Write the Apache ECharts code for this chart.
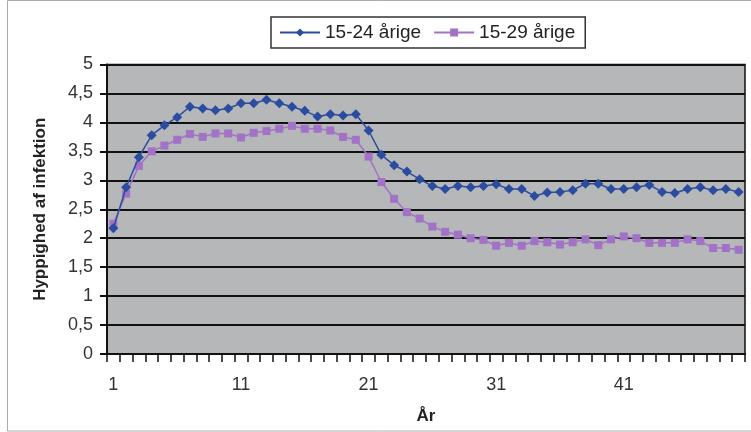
<!DOCTYPE html>
<html>
<head>
<meta charset="utf-8">
<script src="https://cdn.jsdelivr.net/npm/echarts@6/dist/echarts.min.js"></script>
<style>
  html, body { margin: 0; padding: 0; background: #fff; }
  #chart { width: 751px; height: 432px; }
</style>
</head>
<body>
<div id="chart"></div>
<script>
// Years 1..50
const years = Array.from({ length: 50 }, (_, i) => String(i + 1));

// Frequency of infection, ages 15-24
const age15to24 = [
  2.17, 2.88, 3.40, 3.78, 3.95, 4.09, 4.27, 4.24, 4.21, 4.24,
  4.33, 4.33, 4.39, 4.33, 4.27, 4.20, 4.10, 4.14, 4.12, 4.14,
  3.86, 3.44, 3.26, 3.15, 3.02, 2.90, 2.85, 2.90, 2.88, 2.90,
  2.93, 2.85, 2.85, 2.73, 2.79, 2.80, 2.83, 2.94, 2.94, 2.85,
  2.85, 2.88, 2.92, 2.80, 2.78, 2.85, 2.88, 2.83, 2.85, 2.80
];

// Frequency of infection, ages 15-29
const age15to29 = [
  2.25, 2.77, 3.25, 3.50, 3.60, 3.70, 3.80, 3.75, 3.81, 3.81,
  3.74, 3.82, 3.85, 3.89, 3.94, 3.89, 3.89, 3.86, 3.75, 3.70,
  3.41, 2.97, 2.68, 2.45, 2.34, 2.20, 2.11, 2.06, 2.00, 1.97,
  1.87, 1.92, 1.87, 1.95, 1.93, 1.89, 1.93, 1.98, 1.88, 1.98,
  2.03, 2.00, 1.92, 1.92, 1.92, 1.98, 1.95, 1.83, 1.83, 1.80
];

const seriesNames = ['15-24 årige', '15-29 årige'];
const FONT = '"Liberation Sans", Arial, sans-serif';

const chart = echarts.init(document.getElementById('chart'), null, { renderer: 'canvas' });

chart.setOption({
  backgroundColor: '#fff',
  animation: false,
  textStyle: { fontFamily: FONT },
  graphic: [{
    type: 'rect',
    shape: { x: 7.5, y: 0.5, width: 760, height: 430.5 },
    style: { fill: 'none', stroke: '#aaa', lineWidth: 1 },
    silent: true
  }],
  legend: {
    left: 271,
    top: 17,
    padding: [6, 10, 6, 8],
    itemGap: 12,
    itemWidth: 40,
    itemHeight: 10,
    borderColor: '#333',
    borderWidth: 1.5,
    backgroundColor: '#fff',
    textStyle: { fontSize: 19, color: '#222', fontFamily: FONT },
    data: seriesNames
  },
  grid: {
    left: 107,
    right: 6,
    top: 64.5,
    bottom: 78,
    show: true,
    backgroundColor: '#b5b7b9',
    borderColor: '#111',
    borderWidth: 1.5
  },
  xAxis: {
    type: 'category',
    data: years,
    boundaryGap: true,
    name: 'År',
    nameLocation: 'middle',
    nameGap: 54,
    nameTextStyle: { fontSize: 17, fontWeight: 'bold', color: '#222', fontFamily: FONT },
    axisLine: { lineStyle: { color: '#111', width: 2 } },
    axisTick: { show: true, interval: 0, length: 8, lineStyle: { color: '#111', width: 1.5 } },
    axisLabel: { interval: 9, margin: 22, fontSize: 18, color: '#333', fontFamily: FONT },
    splitLine: { show: false }
  },
  yAxis: {
    type: 'value',
    min: 0,
    max: 5,
    interval: 0.5,
    name: 'Hyppighed af infektion',
    nameLocation: 'middle',
    nameGap: 58,
    nameTextStyle: { fontSize: 17, fontWeight: 'bold', color: '#222', fontFamily: FONT },
    axisLine: { show: true, lineStyle: { color: '#111', width: 2 } },
    axisTick: { show: true, length: 7, lineStyle: { color: '#111', width: 2 } },
    axisLabel: {
      margin: 14,
      fontSize: 18,
      color: '#333',
      fontFamily: FONT,
      formatter: v => String(v).replace('.', ',')
    },
    splitLine: { show: true, lineStyle: { color: '#111', width: 2 } }
  },
  series: [
    {
      name: seriesNames[0],
      type: 'line',
      data: age15to24,
      symbol: 'diamond',
      symbolSize: 10,
      showAllSymbol: true,
      z: 3,
      itemStyle: { color: '#2b4c9f' },
      lineStyle: { color: '#2b4c9f', width: 1.5 }
    },
    {
      name: seriesNames[1],
      type: 'line',
      data: age15to29,
      symbol: 'rect',
      symbolSize: 8,
      showAllSymbol: true,
      z: 2,
      itemStyle: { color: '#a272c6' },
      lineStyle: { color: '#a272c6', width: 1.5 }
    }
  ]
});
</script>
</body>
</html>
